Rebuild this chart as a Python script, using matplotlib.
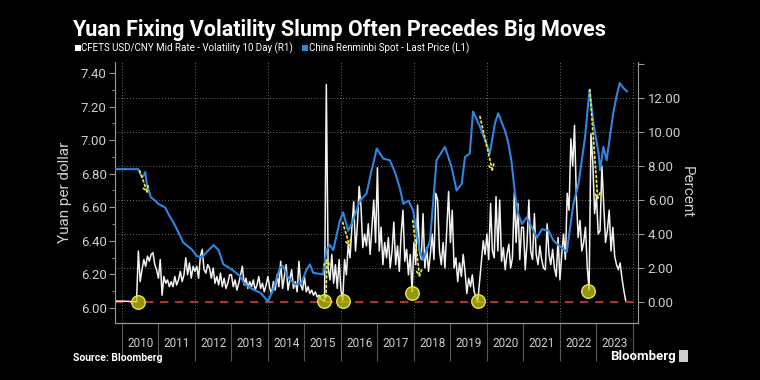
import numpy as np
import matplotlib
matplotlib.use('Agg')
import matplotlib.pyplot as plt
from matplotlib.patches import Rectangle

# China renminbi spot, yuan per dollar (left axis)
spot_years = [2009.81, 2010.45, 2010.50, 2010.55, 2010.60, 2010.64, 2010.68, 2010.79, 2010.91,
              2011.00, 2011.18, 2011.30, 2011.41, 2011.55, 2011.68, 2011.91, 2012.05, 2012.19,
              2012.33, 2012.51, 2012.65, 2012.78, 2013.01, 2013.24, 2013.37, 2013.60, 2013.80,
              2014.00, 2014.14, 2014.33, 2014.41, 2014.56, 2014.74, 2014.92, 2015.06, 2015.15,
              2015.24, 2015.51, 2015.60, 2015.70, 2015.79, 2015.97, 2016.06, 2016.20, 2016.33,
              2016.52, 2016.70, 2016.84, 2016.93, 2016.98, 2017.16, 2017.34, 2017.48, 2017.62,
              2017.71, 2017.85, 2017.98, 2018.08, 2018.16, 2018.25, 2018.44, 2018.53, 2018.62,
              2018.85, 2019.03, 2019.17, 2019.31, 2019.40, 2019.53, 2019.62, 2019.81, 2019.95,
              2020.08, 2020.22, 2020.31, 2020.45, 2020.49, 2020.58, 2020.67, 2020.77, 2020.86,
              2020.96, 2021.09, 2021.23, 2021.37, 2021.51, 2021.69, 2021.83, 2022.01, 2022.19,
              2022.28, 2022.37, 2022.51, 2022.69, 2022.81, 2022.92, 2023.06, 2023.10, 2023.19,
              2023.28, 2023.37, 2023.46, 2023.55, 2023.64, 2023.74, 2023.84]
spot_values = [6.827, 6.827, 6.80, 6.78, 6.79, 6.81, 6.74, 6.66, 6.64,
               6.62, 6.60, 6.55, 6.51, 6.45, 6.39, 6.35, 6.31, 6.30,
               6.335, 6.375, 6.345, 6.26, 6.23, 6.19, 6.14, 6.11, 6.09,
               6.04, 6.107, 6.24, 6.25, 6.18, 6.14, 6.15, 6.23, 6.26,
               6.21, 6.20, 6.345, 6.375, 6.345, 6.52, 6.57, 6.46, 6.52,
               6.64, 6.68, 6.82, 6.90, 6.95, 6.89, 6.88, 6.81, 6.71,
               6.62, 6.64, 6.58, 6.435, 6.345, 6.286, 6.40, 6.64, 6.88,
               6.96, 6.84, 6.70, 6.74, 6.90, 6.92, 7.17, 7.08, 7.00,
               6.92, 7.10, 7.16, 7.08, 7.06, 6.99, 6.88, 6.68, 6.56,
               6.50, 6.54, 6.48, 6.42, 6.47, 6.46, 6.40, 6.365, 6.335,
               6.48, 6.62, 6.74, 7.02, 7.30, 7.10, 6.92, 6.82, 6.96,
               6.88, 7.02, 7.16, 7.26, 7.34, 7.31, 7.29]

# CFETS fixing 10 day volatility, percent (right axis), one reading every 0.05 year
vol_start = 2009.8
vol_step = 0.05
vol_2009 = [0.06, 0.06, 0.05, 0.05]
vol_2010 = [0.05, 0.05, 0.04, 0.04, 0.03, 0.03, 0.03, 0.02, 0.02, 3.0,
            1.2, 1.9, 2.5, 2.1, 2.7, 2.4, 2.8, 2.9, 2.2, 1.9]
vol_2011 = [1.4, 2.5, 0.4, 1.5, 1.1, 1.3, 0.9, 1.2, 0.9, 1.5,
            1.0, 1.3, 1.8, 1.2, 1.6, 2.6, 1.6, 2.3, 1.4, 2.1]
vol_2012 = [1.8, 2.1, 1.4, 2.7, 3.1, 1.9, 1.7, 2.2, 2.0, 1.4,
            2.0, 1.1, 1.5, 1.0, 1.7, 0.9, 1.4, 0.8, 1.1, 1.6]
vol_2013 = [1.6, 0.9, 1.3, 0.7, 1.1, 1.6, 2.1, 1.0, 1.4, 0.8,
            1.2, 0.9, 1.3, 0.7, 1.0, 1.5, 0.8, 1.1, 0.6, 1.0]
vol_2014 = [1.5, 0.8, 0.5, 1.2, 0.7, 1.6, 0.9, 2.4, 0.8, 1.5,
            2.2, 0.7, 1.3, 1.9, 0.8, 1.2, 0.6, 2.4, 1.0, 0.7]
vol_2015 = [1.5, 0.6, 0.9, 0.5, 0.7, 0.4, 0.6, 0.3, 0.4, 0.2,
            0.1, 0.05, 12.8, 2.0, 1.3, 2.8, 1.1, 2.2, 0.8, 2.5]
vol_2016 = [0.7, 0.1, 2.5, 1.6, 3.4, 2.6, 4.4, 5.9, 3.0, 4.5,
            6.8, 5.6, 3.2, 4.0, 3.3, 4.6, 2.8, 4.4, 6.0, 3.5]
vol_2017 = [7.9, 3.0, 4.4, 2.2, 3.5, 2.6, 3.8, 2.0, 3.0, 4.7,
            2.2, 3.3, 1.8, 4.0, 5.4, 2.4, 3.1, 1.6, 2.8, 0.6]
vol_2018 = [3.5, 2.2, 5.7, 3.0, 2.5, 5.2, 2.0, 3.2, 1.8, 2.8,
            4.0, 2.5, 6.4, 6.0, 3.0, 2.2, 3.5, 2.0, 4.2, 6.5]
vol_2019 = [3.5, 5.4, 2.0, 2.6, 1.2, 2.3, 1.5, 2.8, 1.8, 0.5,
            1.4, 0.9, 1.6, 0.6, 0.3, 0.05, 1.2, 2.4, 3.6, 2.8]
vol_2020 = [4.0, 2.5, 5.8, 3.0, 2.6, 6.2, 3.0, 6.0, 2.4, 3.2,
            1.9, 2.8, 3.4, 2.0, 2.6, 6.4, 3.5, 5.8, 2.5, 4.4]
vol_2021 = [4.4, 1.9, 3.5, 6.0, 3.0, 2.5, 5.2, 2.8, 2.2, 3.3,
            2.5, 2.0, 1.9, 4.6, 2.8, 2.2, 3.1, 2.0, 1.5, 3.8]
vol_2022 = [1.3, 2.8, 4.0, 2.5, 6.4, 5.4, 9.6, 8.0, 10.4, 6.2,
            3.8, 4.8, 3.0, 3.5, 4.4, 2.0, 0.7, 9.9, 8.3, 5.2]
vol_2023 = [6.2, 4.0, 4.2, 8.0, 5.8, 3.5, 4.2, 5.4, 3.0, 4.4,
            2.7, 2.2, 1.9, 2.3, 1.4, 0.7, 0.1]

# volatility slumps that are circled
slump_years = [2010.44, 2015.53, 2016.05, 2017.95, 2019.75, 2022.77]
slump_values = [0.0, 0.05, 0.05, 0.55, 0.05, 0.65]

# yellow arrows, yuan per dollar: start and end
arrow_from = [(2010.49, 6.816), (2015.59, 6.066), (2016.05, 6.51),
              (2017.97, 6.52), (2019.81, 7.14), (2022.82, 7.30)]
arrow_to = [(2010.71, 6.68), (2015.62, 6.30), (2016.25, 6.36),
            (2018.16, 6.18), (2020.16, 6.81), (2023.04, 6.64)]

year_ticks = list(range(2010, 2025))
year_labels = [str(y) for y in range(2010, 2024)]

font = ['Roboto', 'DejaVu Sans']
grey_txt = '#cfcfcf'


def draw_chart():
    vol_values = (vol_2009 + vol_2010 + vol_2011 + vol_2012 + vol_2013 + vol_2014 + vol_2015
                  + vol_2016 + vol_2017 + vol_2018 + vol_2019 + vol_2020 + vol_2021
                  + vol_2022 + vol_2023)
    vol_years = vol_start + vol_step * np.arange(len(vol_values))

    fig = plt.figure(figsize=(7.6, 3.8), dpi=100, facecolor='black')
    ax = fig.add_axes([0.1513, 0.15, 0.6882, 0.6868], facecolor='black')
    ax2 = ax.twinx()

    # blue spot line on the left axis
    ax.plot(spot_years, spot_values, color='#2f86e0', lw=1.5, zorder=3)
    ax.set_ylim(5.911, 7.465)
    ax.set_yticks(np.arange(6.0, 7.41, 0.2))
    ax.set_yticks(np.arange(6.1, 7.41, 0.2), minor=True)
    ax.set_yticklabels(['%.2f' % v for v in np.arange(6.0, 7.41, 0.2)])

    # white volatility line on the right axis
    ax2.axhline(0, color='#d83a3a', lw=1.2, ls=(0, (5, 4)), zorder=1)
    ax2.plot(vol_years, vol_values, color='#f2f2f2', lw=1.1, zorder=3)
    ax2.set_ylim(-1.235, 14.12)
    ax2.set_yticks(range(0, 15, 2))
    ax2.set_yticklabels(['%.2f' % v for v in range(0, 13, 2)] + [''])

    # circles at the slumps
    ax2.scatter(slump_years, slump_values, s=95, facecolor=(0.78, 0.78, 0.1, 0.75),
                edgecolor='#e8e83a', lw=1.0, zorder=5)

    # dotted yellow arrows
    for (x0, y0), (x1, y1) in zip(arrow_from, arrow_to):
        ax.annotate('', xy=(x1, y1), xytext=(x0, y0), zorder=6,
                    arrowprops=dict(arrowstyle='->', linestyle=':', color='#e6e640',
                                    lw=1.3, mutation_scale=10, shrinkA=0, shrinkB=0))
    ax.set_zorder(ax2.get_zorder() + 1)
    ax.patch.set_visible(False)
    ax2.patch.set_facecolor('black')

    # grid: horizontal from the right axis, vertical every other year
    for v in range(2, 13, 2):
        ax2.axhline(v, color='#6a6a6a', lw=0.7, ls=(0, (1, 2)), zorder=0)
    for y in range(2010, 2025, 2):
        ax2.axvline(y, color='#6a6a6a', lw=0.7, ls=(0, (1, 2)), zorder=0)

    # x axis: long separators at year starts, labels in the middle of the years
    ax.set_xlim(2009.81, 2024.14)
    ax.set_xticks(year_ticks)
    ax.set_xticklabels([])
    ax.set_xticks([y + 0.5 for y in range(2010, 2024)], minor=True)
    ax.set_xticklabels(year_labels, minor=True, family=font, fontsize=8.5, color=grey_txt)
    ax.tick_params(axis='x', which='major', length=27, color='#5a5a5a', width=0.8)
    ax.tick_params(axis='x', which='minor', length=0, pad=10)

    ax.tick_params(axis='y', which='major', length=4, color='#9a9a9a', pad=2,
                   labelcolor=grey_txt, labelsize=9.5)
    ax.tick_params(axis='y', which='minor', length=2, color='#9a9a9a')
    ax2.tick_params(axis='y', length=4, color='#9a9a9a', pad=3,
                    labelcolor=grey_txt, labelsize=9.5)
    for lab in ax.get_yticklabels() + ax2.get_yticklabels():
        lab.set_family(font)

    for a in (ax, ax2):
        a.spines['top'].set_visible(False)
        for s in ('left', 'right', 'bottom'):
            a.spines[s].set_color('#9a9a9a')
            a.spines[s].set_linewidth(0.8)
    ax.spines['right'].set_visible(False)
    ax2.spines['left'].set_visible(False)

    ax.set_ylabel('Yuan per dollar', color=grey_txt, fontsize=11, family=font, labelpad=6)
    ax2.set_ylabel('Percent', color=grey_txt, fontsize=11, rotation=270, labelpad=9,
                   family=font)

    # title and legend
    fig.text(0.095, 0.921, 'Yuan Fixing Volatility Slump Often Precedes Big Moves',
             color='white', fontsize=15.5, weight='bold', va='center', family=font)
    fig.patches.append(Rectangle((0.0985, 0.866), 0.0075, 0.015, transform=fig.transFigure,
                                 facecolor='white', edgecolor='none'))
    fig.text(0.107, 0.873, 'CFETS USD/CNY Mid Rate - Volatility 10 Day (R1)',
             color='white', fontsize=7.0, va='center', family=font)
    fig.patches.append(Rectangle((0.3975, 0.866), 0.0075, 0.015, transform=fig.transFigure,
                                 facecolor='#2f86e0', edgecolor='none'))
    fig.text(0.406, 0.873, 'China Renminbi Spot - Last Price (L1)',
             color='white', fontsize=7.0, va='center', family=font)

    # footer
    fig.text(0.096, 0.058, 'Source: Bloomberg', color='white', fontsize=7.5, weight='bold',
             va='center', family=font)
    fig.text(0.889, 0.061, 'Bloomberg', color='white', fontsize=9.5, weight='bold',
             va='center', ha='right', family=font)
    fig.patches.append(Rectangle((0.894, 0.048), 0.011, 0.03, transform=fig.transFigure,
                                 facecolor='#cfcfcf', edgecolor='none'))

    plt.savefig('out.png', dpi=100, facecolor='black')


draw_chart()
